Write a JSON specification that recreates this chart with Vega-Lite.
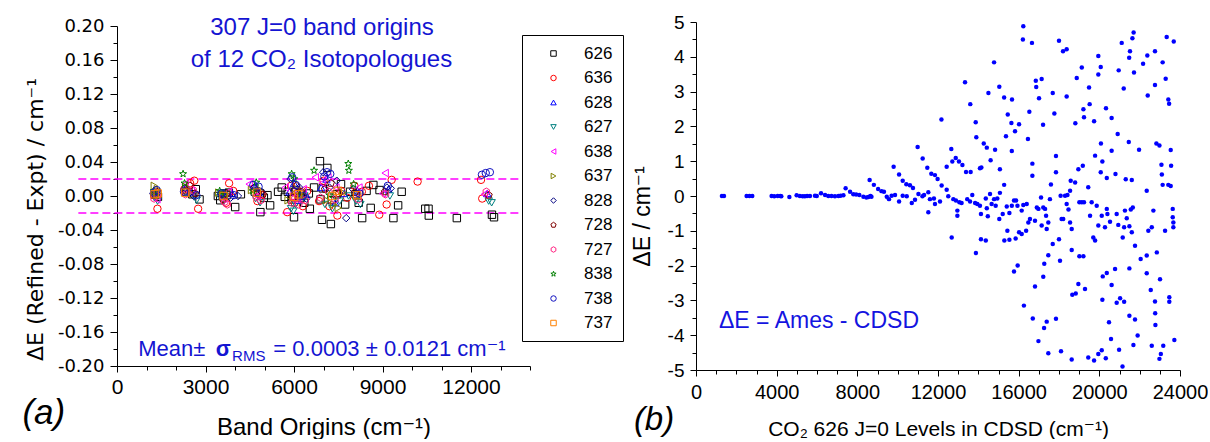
{
"$schema": "https://vega.github.io/schema/vega-lite/v6.json",
"background": "white",
"padding": {"left": 22, "top": 13, "right": 0, "bottom": 0},
"bounds": "flush",
"spacing": 166,
"config": {"view": {"stroke": null}, "font": "Liberation Sans, DejaVu Sans",
  "axis": {"grid": false, "domainColor": "black", "domainWidth": 1, "tickColor": "black", "tickWidth": 1, "labelColor": "black", "titleColor": "black", "titleFontWeight": "normal", "labelFont": "Liberation Sans", "titleFont": "Liberation Sans, DejaVu Sans", "labelFlush": false, "labelOverlap": false}},
"datasets": {
"one": [{}],
"bands": [
{"iso":"626","band":1285.4,"dE":0.0015},{"iso":"626","band":1388.2,"dE":-0.001},{"iso":"626","band":2349.1,"dE":0.005},{"iso":"626","band":2548.4,"dE":0.002},{"iso":"626","band":2671.1,"dE":0.008},{"iso":"626","band":2797.1,"dE":-0.004},{"iso":"626","band":3612.8,"dE":0.003},{"iso":"626","band":3714.8,"dE":0.001},{"iso":"626","band":3792.7,"dE":0.004},{"iso":"626","band":3500,"dE":-0.005},{"iso":"626","band":4005.9,"dE":-0.013},{"iso":"626","band":4200,"dE":0.002},{"iso":"626","band":3420,"dE":0},{"iso":"626","band":4673.3,"dE":0.005},{"iso":"626","band":4853.6,"dE":0.003},{"iso":"626","band":4977.8,"dE":-0.002},{"iso":"626","band":5099.7,"dE":0.001},{"iso":"626","band":5190,"dE":-0.011},{"iso":"626","band":4860,"dE":-0.019},{"iso":"626","band":5460,"dE":0.005},{"iso":"626","band":5584.4,"dE":0.01},{"iso":"626","band":5687.2,"dE":-0.001},{"iso":"626","band":5790,"dE":0.005},{"iso":"626","band":5915.2,"dE":-0.004},{"iso":"626","band":6000,"dE":-0.025},{"iso":"626","band":6075.6,"dE":0.007},{"iso":"626","band":6227.9,"dE":-0.002},{"iso":"626","band":6347.9,"dE":-0.008},{"iso":"626","band":6503.1,"dE":0.003},{"iso":"626","band":6536.4,"dE":-0.015},{"iso":"626","band":6680,"dE":0.01},{"iso":"626","band":6880,"dE":0.041},{"iso":"626","band":6900,"dE":-0.004},{"iso":"626","band":6950,"dE":-0.028},{"iso":"626","band":6975,"dE":0.009},{"iso":"626","band":7130,"dE":0.033},{"iso":"626","band":7250,"dE":-0.033},{"iso":"626","band":7284,"dE":-0.005},{"iso":"626","band":7450,"dE":0.002},{"iso":"626","band":7594,"dE":0.014},{"iso":"626","band":7735,"dE":-0.01},{"iso":"626","band":7900,"dE":0.005},{"iso":"626","band":8089,"dE":0.002},{"iso":"626","band":8193,"dE":-0.008},{"iso":"626","band":8310,"dE":-0.026},{"iso":"626","band":8460,"dE":0.006},{"iso":"626","band":8690,"dE":0.013},{"iso":"626","band":8900,"dE":0.007},{"iso":"626","band":9370,"dE":-0.026},{"iso":"626","band":9530,"dE":-0.011},{"iso":"626","band":9650,"dE":0.005},{"iso":"626","band":8600,"dE":-0.014},{"iso":"626","band":10450,"dE":-0.015},{"iso":"626","band":10560,"dE":-0.015},{"iso":"626","band":10570,"dE":-0.023},{"iso":"626","band":11520,"dE":-0.026},{"iso":"626","band":12710,"dE":-0.022},{"iso":"626","band":12780,"dE":-0.025},
{"iso":"636","band":1265.8,"dE":0.002},{"iso":"636","band":1370.1,"dE":-0.015},{"iso":"636","band":2283.5,"dE":0.008},{"iso":"636","band":2480,"dE":0.015},{"iso":"636","band":2620,"dE":0.018},{"iso":"636","band":2750,"dE":-0.015},{"iso":"636","band":3632.9,"dE":0.001},{"iso":"636","band":3800,"dE":0.015},{"iso":"636","band":3940,"dE":0.006},{"iso":"636","band":3700,"dE":-0.008},{"iso":"636","band":4640,"dE":0.009},{"iso":"636","band":4760,"dE":-0.006},{"iso":"636","band":4900,"dE":0.001},{"iso":"636","band":5770,"dE":-0.019},{"iso":"636","band":5900,"dE":0.012},{"iso":"636","band":6020,"dE":-0.008},{"iso":"636","band":6120,"dE":0.003},{"iso":"636","band":6300,"dE":-0.012},{"iso":"636","band":6450,"dE":0.006},{"iso":"636","band":6200,"dE":0},{"iso":"636","band":6850,"dE":-0.006},{"iso":"636","band":7000,"dE":0.018},{"iso":"636","band":7200,"dE":-0.012},{"iso":"636","band":7470,"dE":-0.023},{"iso":"636","band":7600,"dE":0.006},{"iso":"636","band":7800,"dE":-0.002},{"iso":"636","band":8050,"dE":0.012},{"iso":"636","band":8540,"dE":0.012},{"iso":"636","band":8890,"dE":-0.022},{"iso":"636","band":9140,"dE":-0.01},{"iso":"636","band":9310,"dE":0.019},{"iso":"636","band":8300,"dE":0.005},{"iso":"636","band":10190,"dE":0.017},{"iso":"636","band":12340,"dE":0.019},{"iso":"636","band":12380,"dE":-0.003},
{"iso":"628","band":1259.4,"dE":0.003},{"iso":"628","band":1365.8,"dE":0.001},{"iso":"628","band":2332.1,"dE":0.01},{"iso":"628","band":2500,"dE":0.004},{"iso":"628","band":3639.2,"dE":0.004},{"iso":"628","band":3580,"dE":0},{"iso":"628","band":3900,"dE":0.003},{"iso":"628","band":4690,"dE":0.012},{"iso":"628","band":4800,"dE":0.004},{"iso":"628","band":5850,"dE":0.005},{"iso":"628","band":6000,"dE":0.015},{"iso":"628","band":6150,"dE":-0.005},{"iso":"628","band":6400,"dE":0.002},{"iso":"628","band":6920,"dE":0.01},{"iso":"628","band":7100,"dE":0.02},{"iso":"628","band":7400,"dE":-0.008},{"iso":"628","band":7700,"dE":0.003},{"iso":"628","band":8150,"dE":0.006},{"iso":"628","band":9200,"dE":0.008},{"iso":"628","band":12550,"dE":0.003},
{"iso":"627","band":1272.3,"dE":-0.002},{"iso":"627","band":1376,"dE":-0.006},{"iso":"627","band":2340,"dE":0.003},{"iso":"627","band":2700,"dE":-0.005},{"iso":"627","band":3500,"dE":-0.002},{"iso":"627","band":3620,"dE":-0.006},{"iso":"627","band":3750,"dE":0.002},{"iso":"627","band":4700,"dE":-0.003},{"iso":"627","band":4850,"dE":-0.008},{"iso":"627","band":5900,"dE":-0.015},{"iso":"627","band":5980,"dE":-0.018},{"iso":"627","band":6050,"dE":-0.01},{"iso":"627","band":6250,"dE":-0.006},{"iso":"627","band":6350,"dE":0},{"iso":"627","band":7050,"dE":-0.01},{"iso":"627","band":7300,"dE":-0.015},{"iso":"627","band":7550,"dE":-0.006},{"iso":"627","band":7850,"dE":0},{"iso":"627","band":8100,"dE":-0.006},{"iso":"627","band":8250,"dE":-0.01},{"iso":"627","band":9250,"dE":0},{"iso":"627","band":12600,"dE":-0.006},{"iso":"627","band":12700,"dE":-0.008},
{"iso":"638","band":1248,"dE":0.004},{"iso":"638","band":1352,"dE":-0.004},{"iso":"638","band":2306,"dE":0.014},{"iso":"638","band":2520,"dE":0.006},{"iso":"638","band":3600,"dE":-0.003},{"iso":"638","band":3780,"dE":0.005},{"iso":"638","band":4480,"dE":0.014},{"iso":"638","band":4750,"dE":0},{"iso":"638","band":5700,"dE":0.01},{"iso":"638","band":5950,"dE":0.003},{"iso":"638","band":6100,"dE":-0.004},{"iso":"638","band":6310,"dE":0.008},{"iso":"638","band":6720,"dE":0.022},{"iso":"638","band":6950,"dE":0.015},{"iso":"638","band":7150,"dE":0.022},{"iso":"638","band":7420,"dE":0.01},{"iso":"638","band":8200,"dE":0.01},{"iso":"638","band":9090,"dE":0.027},{"iso":"638","band":9000,"dE":0.003},{"iso":"638","band":12450,"dE":0.002},
{"iso":"637","band":1265,"dE":0.012},{"iso":"637","band":1366,"dE":0.008},{"iso":"637","band":2330,"dE":0.011},{"iso":"637","band":2560,"dE":0.002},{"iso":"637","band":3450,"dE":0.004},{"iso":"637","band":3680,"dE":0.001},{"iso":"637","band":4560,"dE":0.007},{"iso":"637","band":4820,"dE":0.008},{"iso":"637","band":5800,"dE":-0.005},{"iso":"637","band":6050,"dE":0.009},{"iso":"637","band":6280,"dE":0.004},{"iso":"637","band":7100,"dE":-0.005},{"iso":"637","band":7350,"dE":-0.01},{"iso":"637","band":7500,"dE":-0.014},{"iso":"637","band":7650,"dE":0.004},{"iso":"637","band":8120,"dE":0},
{"iso":"828","band":1232,"dE":0.003},{"iso":"828","band":1335,"dE":0.002},{"iso":"828","band":2300,"dE":0.009},{"iso":"828","band":2600,"dE":0},{"iso":"828","band":3560,"dE":0.002},{"iso":"828","band":3850,"dE":-0.002},{"iso":"828","band":4100,"dE":0},{"iso":"828","band":4650,"dE":0.01},{"iso":"828","band":4900,"dE":0.005},{"iso":"828","band":5880,"dE":0.02},{"iso":"828","band":6000,"dE":0.006},{"iso":"828","band":6180,"dE":0.01},{"iso":"828","band":6420,"dE":-0.003},{"iso":"828","band":6990,"dE":0.028},{"iso":"828","band":7200,"dE":0.01},{"iso":"828","band":7450,"dE":0.018},{"iso":"828","band":7770,"dE":-0.026},{"iso":"828","band":8000,"dE":0.008},{"iso":"828","band":9150,"dE":0.01},{"iso":"828","band":9280,"dE":0.009},
{"iso":"728","band":1245,"dE":0.001},{"iso":"728","band":1350,"dE":0.005},{"iso":"728","band":2315,"dE":0.006},{"iso":"728","band":2470,"dE":0.012},{"iso":"728","band":2650,"dE":0.003},{"iso":"728","band":3590,"dE":-0.004},{"iso":"728","band":3720,"dE":0.003},{"iso":"728","band":4780,"dE":0.003},{"iso":"728","band":4950,"dE":0.002},{"iso":"728","band":5960,"dE":-0.002},{"iso":"728","band":6080,"dE":0.012},{"iso":"728","band":6240,"dE":0.005},{"iso":"728","band":7050,"dE":0.008},{"iso":"728","band":7250,"dE":0.015},{"iso":"728","band":7520,"dE":0.003},{"iso":"728","band":8060,"dE":0.004},{"iso":"728","band":9080,"dE":0.005},{"iso":"728","band":12600,"dE":0.001},
{"iso":"727","band":1258,"dE":-0.003},{"iso":"727","band":1360,"dE":0},{"iso":"727","band":2320,"dE":0.002},{"iso":"727","band":2580,"dE":0.007},{"iso":"727","band":3650,"dE":-0.007},{"iso":"727","band":3740,"dE":-0.01},{"iso":"727","band":4720,"dE":-0.001},{"iso":"727","band":4880,"dE":-0.005},{"iso":"727","band":5930,"dE":-0.008},{"iso":"727","band":6030,"dE":-0.003},{"iso":"727","band":6160,"dE":-0.01},{"iso":"727","band":6380,"dE":-0.005},{"iso":"727","band":6900,"dE":-0.002},{"iso":"727","band":7180,"dE":0.005},{"iso":"727","band":7390,"dE":-0.004},{"iso":"727","band":8180,"dE":-0.004},{"iso":"727","band":9100,"dE":0.002},{"iso":"727","band":12520,"dE":0.005},
{"iso":"838","band":1240,"dE":0.006},{"iso":"838","band":1327,"dE":0},{"iso":"838","band":2240,"dE":0.026},{"iso":"838","band":2290,"dE":0.015},{"iso":"838","band":3480,"dE":0.006},{"iso":"838","band":3660,"dE":0.002},{"iso":"838","band":4720,"dE":0.016},{"iso":"838","band":4600,"dE":0.006},{"iso":"838","band":5920,"dE":0.026},{"iso":"838","band":6010,"dE":0.02},{"iso":"838","band":6200,"dE":0.001},{"iso":"838","band":6680,"dE":0.03},{"iso":"838","band":7840,"dE":0.038},{"iso":"838","band":7860,"dE":0.03},{"iso":"838","band":7200,"dE":0.001},{"iso":"838","band":8020,"dE":0.014},
{"iso":"738","band":1255,"dE":0.004},{"iso":"738","band":1345,"dE":0.007},{"iso":"738","band":2270,"dE":0.005},{"iso":"738","band":2690,"dE":0.001},{"iso":"738","band":3540,"dE":0.003},{"iso":"738","band":3960,"dE":0.001},{"iso":"738","band":4620,"dE":0.013},{"iso":"738","band":4800,"dE":0.011},{"iso":"738","band":5940,"dE":0.022},{"iso":"738","band":6060,"dE":0.013},{"iso":"738","band":6300,"dE":0},{"iso":"738","band":7120,"dE":0.028},{"iso":"738","band":7230,"dE":0.026},{"iso":"738","band":7030,"dE":0.023},{"iso":"738","band":8220,"dE":0.003},{"iso":"738","band":9180,"dE":0.012},{"iso":"738","band":12370,"dE":0.025},{"iso":"738","band":12500,"dE":0.027},{"iso":"738","band":12640,"dE":0.028},
{"iso":"737","band":1275,"dE":0.002},{"iso":"737","band":1380,"dE":0.003},{"iso":"737","band":2310,"dE":0.004},{"iso":"737","band":3610,"dE":0},{"iso":"737","band":4740,"dE":0.004},{"iso":"737","band":6000,"dE":-0.001},{"iso":"737","band":6140,"dE":0.002},{"iso":"737","band":7300,"dE":0},{"iso":"737","band":7480,"dE":0.006},{"iso":"737","band":8140,"dE":0.001}
],
"levels": [
{"level":1285,"dE":0},{"level":1388,"dE":0},{"level":2510,"dE":0},{"level":2650,"dE":0},{"level":2790,"dE":0},{"level":3750,"dE":0},{"level":3880,"dE":-0.01},{"level":4050,"dE":0},{"level":4180,"dE":0},{"level":4230,"dE":-0.01},{"level":4630,"dE":-0.03},{"level":4990,"dE":0.02},{"level":5150,"dE":0},{"level":5290,"dE":-0.01},{"level":5400,"dE":-0.01},{"level":5510,"dE":0},{"level":5650,"dE":0},{"level":5900,"dE":0.01},{"level":5990,"dE":0},{"level":6200,"dE":0.08},{"level":6400,"dE":0.03},{"level":6560,"dE":0},{"level":6720,"dE":0},{"level":6890,"dE":-0.01},{"level":7060,"dE":0},{"level":7170,"dE":0.01},{"level":7310,"dE":0.02},{"level":7420,"dE":0.22},{"level":7640,"dE":0.12},{"level":7800,"dE":0.05},{"level":7940,"dE":0.04},{"level":8100,"dE":0.03},{"level":8300,"dE":-0.02},{"level":8450,"dE":-0.04},{"level":8550,"dE":-0.03},{"level":8650,"dE":0},{"level":8700,"dE":-0.02},
{"level":8610,"dE":0.46},{"level":8820,"dE":0.32},{"level":9030,"dE":0.2},{"level":9200,"dE":0.14},{"level":9320,"dE":0.12},{"level":9460,"dE":-0.02},{"level":9570,"dE":-0.09},{"level":9700,"dE":0.01},{"level":9800,"dE":0.84},{"level":9870,"dE":0.03},{"level":10070,"dE":0.62},{"level":10070,"dE":-0.16},{"level":10250,"dE":0.44},{"level":10250,"dE":0.01},{"level":10430,"dE":0.34},{"level":10610,"dE":0.31},{"level":10450,"dE":-0.01},{"level":10700,"dE":-0.2},{"level":10760,"dE":0.23},{"level":10860,"dE":-0.11},{"level":10990,"dE":1.41},{"level":11030,"dE":0.06},{"level":11230,"dE":-0.01},{"level":11240,"dE":1.08},{"level":11310,"dE":0.03},{"level":11470,"dE":0.81},{"level":11520,"dE":0.11},{"level":11520,"dE":-0.47},{"level":11600,"dE":-0.09},{"level":11670,"dE":0.64},{"level":11800,"dE":-0.07},{"level":11850,"dE":0.6},{"level":11850,"dE":-0.23},{"level":11980,"dE":0.49},{"level":12100,"dE":-0.16},{"level":12170,"dE":2.2},{"level":12180,"dE":0.3},{"level":12430,"dE":0.84},{"level":12430,"dE":0.18},{"level":12510,"dE":-0.01},{"level":12660,"dE":1.35},{"level":12680,"dE":-1.19},{"level":12710,"dE":0.99},{"level":12760,"dE":-0.09},{"level":12880,"dE":1.09},{"level":12890,"dE":-0.13},{"level":12960,"dE":-0.42},{"level":12960,"dE":-0.57},{"level":13040,"dE":0.99},{"level":13060,"dE":-0.18},{"level":13170,"dE":-0.2},{"level":13210,"dE":0.89},{"level":13340,"dE":3.27},{"level":13390,"dE":0.69},{"level":13450,"dE":-0.09},{"level":13590,"dE":-0.16},{"level":13600,"dE":2.64},{"level":13620,"dE":0.69},{"level":13700,"dE":0.03},{"level":13840,"dE":-0.2},{"level":13870,"dE":2.12},{"level":13880,"dE":-1.64},{"level":13900,"dE":1.69},{"level":13950,"dE":-0.23},{"level":14080,"dE":0.8},{"level":14080,"dE":-0.28},{"level":14130,"dE":-0.52},{"level":14130,"dE":-1.24},{"level":14150,"dE":0.82},{"level":14270,"dE":1.51},{"level":14370,"dE":-0.07},{"level":14370,"dE":-1.28},{"level":14420,"dE":1.39},{"level":14420,"dE":-0.35},{"level":14470,"dE":-0.58},{"level":14500,"dE":2.96},{"level":14580,"dE":0.06},{"level":14610,"dE":1.03},{"level":14660,"dE":-0.23},{"level":14780,"dE":3.84},{"level":14780,"dE":-0.09},{"level":14830,"dE":1.33},{"level":14860,"dE":-0.28},{"level":14940,"dE":-0.07},{"level":15040,"dE":3.14},{"level":15040,"dE":-0.66},{"level":15070,"dE":0.77},{"level":15070,"dE":0.09},{"level":15210,"dE":-0.52},{"level":15280,"dE":2.83},{"level":15280,"dE":0.32},{"level":15290,"dE":-1.28},{"level":15370,"dE":1.72},{"level":15410,"dE":-0.3},{"level":15440,"dE":-1.0},{"level":15460,"dE":2.34},{"level":15540,"dE":-0.49},{"level":15540,"dE":-1.26},{"level":15640,"dE":2.1},{"level":15660,"dE":1.29},{"level":15660,"dE":-0.28},{"level":15670,"dE":2.77},{"level":15770,"dE":-0.13},{"level":15770,"dE":-2.17},{"level":15820,"dE":1.86},{"level":15850,"dE":-1.22},{"level":15870,"dE":-0.13},{"level":15940,"dE":-0.28},{"level":15950,"dE":-2.0},{"level":16020,"dE":2.06},{"level":16020,"dE":-1.04},{"level":16150,"dE":-0.42},{"level":16150,"dE":-1.09},{"level":16210,"dE":4.5},{"level":16230,"dE":4.88},{"level":16230,"dE":-0.26},{"level":16260,"dE":-3.15},{"level":16370,"dE":-1.0},{"level":16400,"dE":-0.23},{"level":16460,"dE":1.64},{"level":16480,"dE":-0.76},{"level":16530,"dE":2.42},{"level":16560,"dE":-0.66},{"level":16660,"dE":4.4},{"level":16680,"dE":0.93},{"level":16680,"dE":0.58},{"level":16700,"dE":-3.52},{"level":16810,"dE":-0.71},{"level":16810,"dE":-2.6},{"level":16850,"dE":3.31},{"level":16870,"dE":3.13},{"level":16900,"dE":-0.33},{"level":16980,"dE":-0.37},{"level":16980,"dE":-4.17},{"level":17010,"dE":2.81},{"level":17110,"dE":-0.04},{"level":17140,"dE":3.36},{"level":17140,"dE":-0.85},{"level":17210,"dE":2.05},{"level":17220,"dE":-0.33},{"level":17220,"dE":-2.32},{"level":17260,"dE":-3.79},{"level":17270,"dE":-1.95},{"level":17310,"dE":-0.37},{"level":17360,"dE":-0.57},{"level":17390,"dE":-0.95},{"level":17390,"dE":-3.61},{"level":17470,"dE":-0.76},{"level":17470,"dE":-1.7},{"level":17470,"dE":-4.52},{"level":17550,"dE":-0.09},{"level":17600,"dE":0.33},{"level":17690,"dE":2.96},{"level":17690,"dE":-1.38},{"level":17770,"dE":2.37},{"level":17850,"dE":1.15},{"level":17850,"dE":0.68},{"level":17850,"dE":-3.53},{"level":18000,"dE":4.46},{"level":18000,"dE":-1.24},{"level":18050,"dE":-1.86},{"level":18080,"dE":0.01},{"level":18100,"dE":-4.46},{"level":18130,"dE":-0.66},{"level":18200,"dE":4.16},{"level":18210,"dE":-0.66},{"level":18300,"dE":0.01},{"level":18380,"dE":4.22},{"level":18380,"dE":2.86},{"level":18380,"dE":-0.23},{"level":18420,"dE":0.03},{"level":18470,"dE":-0.39},{"level":18550,"dE":0.15},{"level":18550,"dE":-0.76},{"level":18580,"dE":0.44},{"level":18630,"dE":-0.95},{"level":18630,"dE":-1.55},{"level":18630,"dE":-4.7},{"level":18660,"dE":-2.84},{"level":18800,"dE":0.39},{"level":18810,"dE":2.09},{"level":18830,"dE":-2.8},{"level":18880,"dE":3.39},{"level":18960,"dE":0.77},{"level":18960,"dE":-2.53},{"level":19010,"dE":-0.18},{"level":19010,"dE":-1.73},{"level":19130,"dE":3.69},{"level":19130,"dE":-0.18},{"level":19180,"dE":0.87},{"level":19210,"dE":2.49},{"level":19210,"dE":-1.73},{"level":19240,"dE":2.26},{"level":19240,"dE":-0.18},{"level":19290,"dE":-2.67},{"level":19450,"dE":0.25},{"level":19450,"dE":-4.64},{"level":19490,"dE":3.12},{"level":19520,"dE":2.64},{"level":19540,"dE":-0.57},{"level":19620,"dE":-0.18},{"level":19700,"dE":-1.19},{"level":19740,"dE":2.15},{"level":19740,"dE":-4.73},{"level":19790,"dE":1.16},{"level":19790,"dE":-1.28},{"level":19870,"dE":-0.28},{"level":19950,"dE":4.02},{"level":19950,"dE":3.49},{"level":19950,"dE":-0.85},{"level":19950,"dE":-4.54},{"level":20070,"dE":3.71},{"level":20070,"dE":0.68},{"level":20080,"dE":1.51},{"level":20120,"dE":-0.57},{"level":20120,"dE":-4.43},{"level":20150,"dE":0.99},{"level":20150,"dE":-2.98},{"level":20170,"dE":-2.31},{"level":20280,"dE":-0.9},{"level":20320,"dE":-4.66},{"level":20330,"dE":2.52},{"level":20370,"dE":0.52},{"level":20370,"dE":-0.37},{"level":20370,"dE":-2.21},{"level":20400,"dE":-0.52},{"level":20480,"dE":-3.63},{"level":20530,"dE":-0.74},{"level":20580,"dE":-4.11},{"level":20610,"dE":2.24},{"level":20610,"dE":1.3},{"level":20610,"dE":-2.56},{"level":20780,"dE":-2.1},{"level":20800,"dE":0.63},{"level":20860,"dE":-0.52},{"level":20860,"dE":-3.07},{"level":20910,"dE":1.78},{"level":20940,"dE":-0.83},{"level":20960,"dE":3.61},{"level":20980,"dE":-4.42},{"level":21030,"dE":-2.94},{"level":21110,"dE":4.4},{"level":21150,"dE":-4.9},{"level":21160,"dE":-1.19},{"level":21210,"dE":3.09},{"level":21230,"dE":-0.9},{"level":21230,"dE":-3.04},{"level":21270,"dE":-0.42},{"level":21310,"dE":0.48},{"level":21360,"dE":-0.64},{"level":21460,"dE":1.55},{"level":21480,"dE":3.97},{"level":21490,"dE":-0.87},{"level":21490,"dE":-2.08},{"level":21490,"dE":-3.44},{"level":21520,"dE":4.16},{"level":21560,"dE":-0.39},{"level":21610,"dE":0.46},{"level":21610,"dE":-1.04},{"level":21640,"dE":4.53},{"level":21660,"dE":-0.33},{"level":21690,"dE":-4.28},{"level":21700,"dE":4.7},{"level":21720,"dE":3.55},{"level":21770,"dE":-1.43},{"level":21770,"dE":-3.55},{"level":21900,"dE":-4.01},{"level":21970,"dE":1.33},{"level":22050,"dE":-1.81},{"level":22170,"dE":3.8},{"level":22350,"dE":0.15},{"level":22350,"dE":-1.71},{"level":22350,"dE":-2.22},{"level":22380,"dE":4.04},{"level":22400,"dE":2.89},{"level":22430,"dE":-1.0},{"level":22550,"dE":-2.7},{"level":22600,"dE":-0.9},{"level":22600,"dE":-4.3},{"level":22680,"dE":-0.42},{"level":22760,"dE":4.16},{"level":22760,"dE":3.19},{"level":22760,"dE":-3.03},{"level":22770,"dE":-3.37},{"level":22780,"dE":-3.71},{"level":22830,"dE":1.51},{"level":22850,"dE":-1.62},{"level":22980,"dE":1.45},{"level":22980,"dE":-4.68},{"level":23010,"dE":-2.39},{"level":23050,"dE":-4.54},{"level":23080,"dE":0.9},{"level":23100,"dE":0.62},{"level":23140,"dE":3.84},{"level":23140,"dE":0.32},{"level":23170,"dE":-4.3},{"level":23260,"dE":-1.0},{"level":23290,"dE":3.37},{"level":23340,"dE":4.57},{"level":23420,"dE":2.77},{"level":23420,"dE":0.32},{"level":23460,"dE":2.65},{"level":23470,"dE":-2.91},{"level":23470,"dE":-3.04},{"level":23540,"dE":0.29},{"level":23540,"dE":1.32},{"level":23560,"dE":0.87},{"level":23640,"dE":-0.37},{"level":23640,"dE":-0.61},{"level":23670,"dE":-0.76},{"level":23670,"dE":-0.9},{"level":23690,"dE":4.44},{"level":23720,"dE":-4.14}
]
},
"hconcat": [
{
 "width": 413, "height": 344,
 "data": {"name": "bands"},
 "resolve": {"axis": {"x": "independent", "y": "independent"}},
 "layer": [
  {
   "data": {"values": [{"lim": 0.02}, {"lim": -0.02}]},
   "mark": {"type": "rule", "stroke": "#ff00ff", "strokeDash": [8, 4], "strokeWidth": 1.6},
   "encoding": {
    "x": {"datum": -1310, "type": "quantitative", "scale": {"domain": [0, 14000], "nice": false, "zero": false}, "axis": null},
    "x2": {"datum": 13720},
    "y": {"field": "lim", "type": "quantitative", "scale": {"domain": [-0.2, 0.2], "range": [344, 4], "nice": false, "zero": false}, "axis": null}
   }
  },
  {
   "mark": {"type": "point", "filled": false, "size": 55, "strokeWidth": 1, "opacity": 1},
   "encoding": {
    "x": {"field": "band", "type": "quantitative", "scale": {"domain": [0, 14000], "nice": false, "zero": false},
      "axis": {"orient": "bottom", "values": [0, 3000, 6000, 9000, 12000], "format": "d", "tickSize": 6, "labelFontSize": 21, "labelPadding": 4, "title": "Band Origins (cm⁻¹)", "titleFontSize": 24, "titleY": 68, "titleBaseline": "alphabetic"}},
    "y": {"field": "dE", "type": "quantitative", "scale": {"domain": [-0.2, 0.2], "range": [344, 4], "nice": false, "zero": false},
      "axis": {"orient": "left", "values": [-0.2, -0.16, -0.12, -0.08, -0.04, 0, 0.04, 0.08, 0.12, 0.16, 0.2], "labelExpr": "replace(format(datum.value, '.2f'), '\u2212', '-')", "tickSize": 7, "labelFont": "DejaVu Sans", "labelFontSize": 18, "labelPadding": 6, "title": "ΔE (Refined - Expt) / cm⁻¹", "titleFont": "DejaVu Sans", "titleFontSize": 22, "titleAngle": -90, "titleX": -75, "titleY": 197, "titleAlign": "center", "titleBaseline": "alphabetic"}},
    "color": {"field": "iso", "type": "nominal",
      "scale": {"domain": ["626","636","628","627","638","637","828","728","727","838","738","737"], "range": ["#000000","#ff0000","#0000ff","#008080","#ff00ff","#808000","#000080","#800000","#ff2080","#008000","#1010c0","#ff8000"]},
      "legend": {"orient": "none", "legendX": 405, "legendY": 13, "title": null, "strokeColor": "black", "fillColor": "white", "padding": 10, "symbolOffset": 13, "labelOffset": 22, "labelFontSize": 17, "labelFont": "Liberation Sans", "labelColor": "black", "symbolSize": 30, "symbolStrokeWidth": 1, "rowPadding": 6.5}},
    "shape": {"field": "iso", "type": "nominal",
      "scale": {"domain": ["626","636","628","627","638","637","828","728","727","838","738","737"], "range": ["square","circle","triangle-up","triangle-down","triangle-left","triangle-right","diamond","M0,-1L0.951,-0.309L0.588,0.809L-0.588,0.809L-0.951,-0.309Z","M0,-1L0.866,-0.5L0.866,0.5L0,1L-0.866,0.5L-0.866,-0.5Z","M0,-1L0.235,-0.324L0.951,-0.309L0.38,0.124L0.588,0.809L0,0.4L-0.588,0.809L-0.38,0.124L-0.951,-0.309L-0.235,-0.324Z","circle","square"]},
      "legend": {"orient": "none", "legendX": 405, "legendY": 13, "title": null, "strokeColor": "black", "fillColor": "white", "padding": 10, "symbolOffset": 13, "labelOffset": 22, "labelFontSize": 17, "labelFont": "Liberation Sans", "labelColor": "black", "symbolSize": 30, "symbolStrokeWidth": 1, "rowPadding": 6.5}}
   }
  },
  {
   "mark": {"type": "point", "opacity": 0},
   "encoding": {
    "x": {"field": "band", "type": "quantitative", "scale": {"domain": [0, 14000], "nice": false, "zero": false},
      "axis": {"orient": "bottom", "values": [1000, 2000, 4000, 5000, 7000, 8000, 10000, 11000, 13000, 14000], "labels": false, "domain": false, "tickSize": 4, "title": null}},
    "y": {"field": "dE", "type": "quantitative", "scale": {"domain": [-0.2, 0.2], "range": [344, 4], "nice": false, "zero": false},
      "axis": {"orient": "left", "values": [-0.18, -0.14, -0.1, -0.06, -0.02, 0.02, 0.06, 0.1, 0.14, 0.18], "labels": false, "domain": false, "tickSize": 4, "title": null}}
   }
  },
  {
   "data": {"name": "one"},
   "mark": {"type": "text", "text": "307 J=0 band origins", "font": "Liberation Sans", "fontSize": 24, "color": "#1414d2", "align": "center", "baseline": "middle"},
   "encoding": {
    "x": {"datum": 6950, "type": "quantitative", "scale": {"domain": [0, 14000], "nice": false, "zero": false}, "axis": null},
    "y": {"datum": 0.1976, "type": "quantitative", "scale": {"domain": [-0.2, 0.2], "range": [344, 4], "nice": false, "zero": false}, "axis": null}
   }
  },
  {
   "data": {"name": "one"},
   "mark": {"type": "text", "text": "of 12 CO₂ Isotopologues", "font": "Liberation Sans, DejaVu Sans", "fontSize": 24, "color": "#1414d2", "align": "center", "baseline": "middle"},
   "encoding": {
    "x": {"datum": 6930, "type": "quantitative", "scale": {"domain": [0, 14000], "nice": false, "zero": false}, "axis": null},
    "y": {"datum": 0.16, "type": "quantitative", "scale": {"domain": [-0.2, 0.2], "range": [344, 4], "nice": false, "zero": false}, "axis": null}
   }
  },
  {
   "data": {"name": "one"},
   "mark": {"type": "text", "text": "Mean±", "font": "Liberation Sans", "fontSize": 22, "color": "#1414d2", "align": "left", "baseline": "alphabetic"},
   "encoding": {
    "x": {"datum": 721, "type": "quantitative", "scale": {"domain": [0, 14000], "nice": false, "zero": false}, "axis": null},
    "y": {"datum": -0.188, "type": "quantitative", "scale": {"domain": [-0.2, 0.2], "range": [344, 4], "nice": false, "zero": false}, "axis": null}
   }
  },
  {
   "data": {"name": "one"},
   "mark": {"type": "text", "text": "σ", "font": "Liberation Sans, DejaVu Sans", "fontWeight": "bold", "fontSize": 22, "color": "#1414d2", "align": "left", "baseline": "alphabetic"},
   "encoding": {
    "x": {"datum": 3350, "type": "quantitative", "scale": {"domain": [0, 14000], "nice": false, "zero": false}, "axis": null},
    "y": {"datum": -0.188, "type": "quantitative", "scale": {"domain": [-0.2, 0.2], "range": [344, 4], "nice": false, "zero": false}, "axis": null}
   }
  },
  {
   "data": {"name": "one"},
   "mark": {"type": "text", "text": "RMS", "font": "Liberation Sans", "fontSize": 15, "color": "#1414d2", "align": "left", "baseline": "alphabetic"},
   "encoding": {
    "x": {"datum": 3900, "type": "quantitative", "scale": {"domain": [0, 14000], "nice": false, "zero": false}, "axis": null},
    "y": {"datum": -0.1938, "type": "quantitative", "scale": {"domain": [-0.2, 0.2], "range": [344, 4], "nice": false, "zero": false}, "axis": null}
   }
  },
  {
   "data": {"name": "one"},
   "mark": {"type": "text", "text": "= 0.0003 ± 0.0121 cm⁻¹", "font": "Liberation Sans, DejaVu Sans", "fontSize": 22, "color": "#1414d2", "align": "left", "baseline": "alphabetic"},
   "encoding": {
    "x": {"datum": 5300, "type": "quantitative", "scale": {"domain": [0, 14000], "nice": false, "zero": false}, "axis": null},
    "y": {"datum": -0.188, "type": "quantitative", "scale": {"domain": [-0.2, 0.2], "range": [344, 4], "nice": false, "zero": false}, "axis": null}
   }
  },
  {
   "data": {"name": "one"},
   "mark": {"type": "text", "text": "(a)", "font": "Liberation Sans", "fontStyle": "italic", "fontSize": 35, "color": "black", "align": "center", "baseline": "alphabetic"},
   "encoding": {
    "x": {"datum": -2480, "type": "quantitative", "scale": {"domain": [0, 14000], "nice": false, "zero": false}, "axis": null},
    "y": {"datum": -0.268, "type": "quantitative", "scale": {"domain": [-0.2, 0.2], "range": [344, 4], "nice": false, "zero": false}, "axis": null}
   }
  }
 ]
},
{
 "width": 484, "height": 348,
 "data": {"name": "levels"},
 "resolve": {"axis": {"x": "independent", "y": "independent"}},
 "layer": [
  {
   "mark": {"type": "circle", "size": 20, "color": "#0000ff", "opacity": 1},
   "encoding": {
    "x": {"field": "level", "type": "quantitative", "scale": {"domain": [0, 24000], "nice": false, "zero": false},
      "axis": {"orient": "bottom", "values": [0, 4000, 8000, 12000, 16000, 20000, 24000], "format": "d", "tickSize": 6, "labelFontSize": 20, "labelPadding": 6, "title": "CO₂ 626 J=0 Levels in CDSD (cm⁻¹)", "titleFontSize": 21, "titleY": 65, "titleBaseline": "alphabetic"}},
    "y": {"field": "dE", "type": "quantitative", "scale": {"domain": [-5, 5], "nice": false, "zero": false},
      "axis": {"orient": "left", "values": [-5, -4, -3, -2, -1, 0, 1, 2, 3, 4, 5], "labelExpr": "replace(format(datum.value, 'd'), '\u2212', '-')", "tickSize": 6, "labelFontSize": 19, "labelPadding": 6, "title": "ΔE / cm⁻¹", "titleFontSize": 23, "titleAngle": -90, "titleX": -47, "titleY": 194, "titleAlign": "center", "titleBaseline": "alphabetic"}}
   }
  },
  {
   "mark": {"type": "point", "opacity": 0},
   "encoding": {
    "x": {"field": "level", "type": "quantitative", "scale": {"domain": [0, 24000], "nice": false, "zero": false},
      "axis": {"orient": "bottom", "values": [1000, 2000, 3000, 5000, 6000, 7000, 9000, 10000, 11000, 13000, 14000, 15000, 17000, 18000, 19000, 21000, 22000, 23000], "labels": false, "domain": false, "tickSize": 4, "title": null}},
    "y": {"field": "dE", "type": "quantitative", "scale": {"domain": [-5, 5], "nice": false, "zero": false},
      "axis": {"orient": "left", "values": [-4.5, -3.5, -2.5, -1.5, -0.5, 0.5, 1.5, 2.5, 3.5, 4.5], "labels": false, "domain": false, "tickSize": 4, "title": null}}
   }
  },
  {
   "data": {"name": "one"},
   "mark": {"type": "text", "text": "ΔE = Ames - CDSD", "font": "Liberation Sans, DejaVu Sans", "fontSize": 23, "color": "#1414e0", "align": "left", "baseline": "alphabetic"},
   "encoding": {
    "x": {"datum": 1140, "type": "quantitative", "scale": {"domain": [0, 24000], "nice": false, "zero": false}, "axis": null},
    "y": {"datum": -3.8, "type": "quantitative", "scale": {"domain": [-5, 5], "nice": false, "zero": false}, "axis": null}
   }
  },
  {
   "data": {"name": "one"},
   "mark": {"type": "text", "text": "(b)", "font": "Liberation Sans", "fontStyle": "italic", "fontSize": 33, "color": "black", "align": "center", "baseline": "alphabetic"},
   "encoding": {
    "x": {"datum": -2080, "type": "quantitative", "scale": {"domain": [0, 24000], "nice": false, "zero": false}, "axis": null},
    "y": {"datum": -6.72, "type": "quantitative", "scale": {"domain": [-5, 5], "nice": false, "zero": false}, "axis": null}
   }
  }
 ]
}
]
}
